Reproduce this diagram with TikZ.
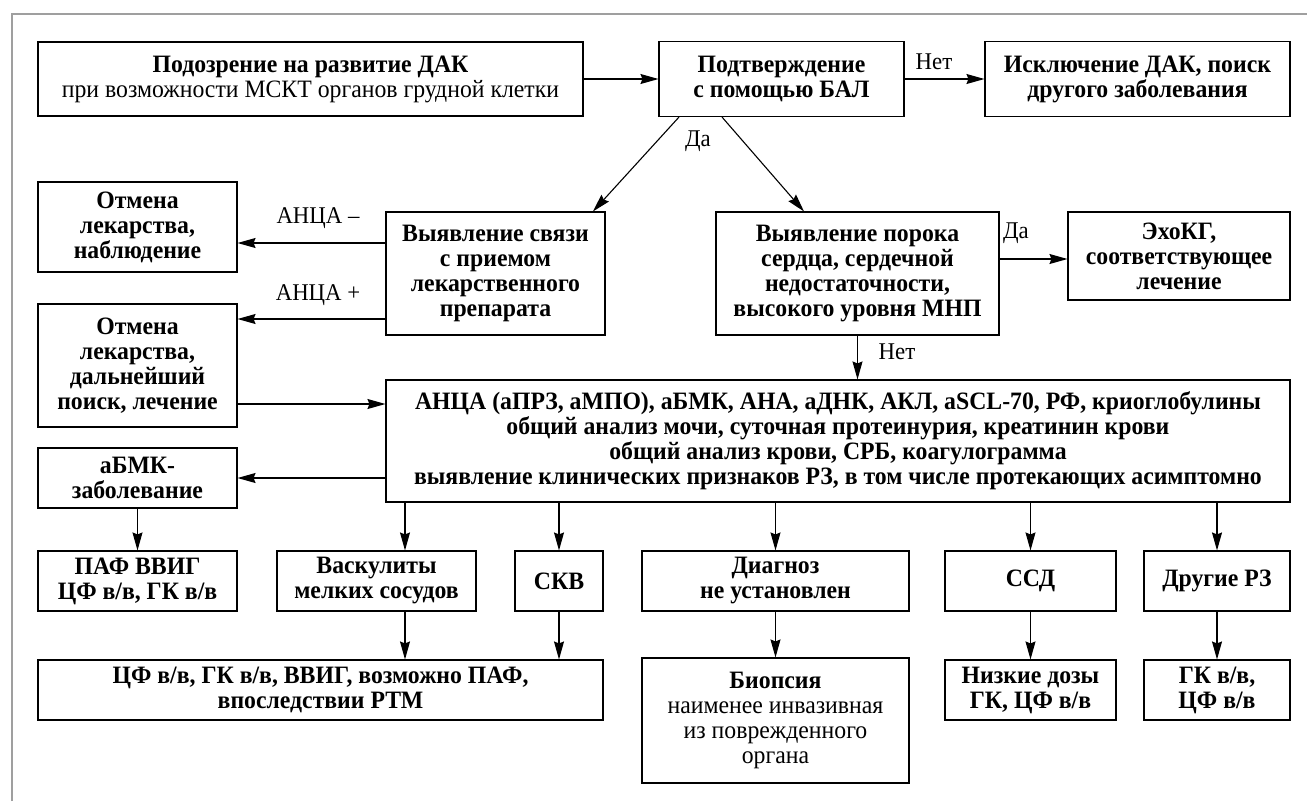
\documentclass[tikz,border=0pt]{standalone}
\usepackage{fontspec}
\setmainfont{Liberation Serif}[FakeStretch=0.95]
\usetikzlibrary{arrows.meta}

\tikzset{
  box/.style={draw, line width=1.1pt, inner sep=0pt, align=center, font=\fontsize{25}{25}\selectfont\bfseries},
  lbl/.style={inner sep=0pt, font=\fontsize{24}{25}\selectfont},
  arr/.style={line width=1.1pt, -{Stealth[length=18pt, width=10pt, inset=2pt]}}
}

\begin{document}
\begin{tikzpicture}[x=1pt, y=-1pt]
  \useasboundingbox (0,0) rectangle (1307,801);
  \draw[gray!75, line width=2.5pt] (12,801) -- (12,14) -- (1307,14);

  % top row
  \node[box, minimum width=545, minimum height=74] (susp) at (310.5,79)
    {Подозрение на развитие ДАК\\ \mdseries при возможности МСКТ органов грудной клетки};
  \node[box, minimum width=245, minimum height=75] (bal) at (781.5,79)
    {Подтверждение\\ с помощью БАЛ};
  \node[box, minimum width=305, minimum height=75] (excl) at (1137.5,79)
    {Исключение ДАК, поиск\\ другого заболевания};

  % second row
  \node[box, minimum width=199, minimum height=90] (stop1) at (137.5,227)
    {Отмена\\ лекарства,\\ наблюдение};
  \node[box, minimum width=219, minimum height=123] (drug) at (495.5,273.5)
    {Выявление связи\\ с приемом\\ лекарственного\\ препарата};
  \node[box, minimum width=283, minimum height=123] (heart) at (857.5,273.5)
    {Выявление порока\\ сердца, сердечной\\ недостаточности,\\ высокого уровня МНП};
  \node[box, minimum width=222, minimum height=88] (echo) at (1179,256)
    {ЭхоКГ,\\ соответствующее\\ лечение};
  \node[box, minimum width=199, minimum height=123] (stop2) at (137.5,365.5)
    {Отмена\\ лекарства,\\ дальнейший\\ поиск, лечение};

  % tests
  \node[box, minimum width=904, minimum height=122] (tests) at (838,441)
    {АНЦА (аПРЗ, аМПО), аБМК, АНА, аДНК, АКЛ, aSCL-70, РФ, криоглобулины\\
     общий анализ мочи, суточная протеинурия, креатинин крови\\
     общий анализ крови, СРБ, коагулограмма\\
     выявление клинических признаков РЗ, в том числе протекающих асимптомно};
  \node[box, minimum width=199, minimum height=60] (abmk) at (137.5,478)
    {аБМК-\\ заболевание};

  % diagnoses
  \node[box, minimum width=199, minimum height=60] (paf) at (137.5,581)
    {ПАФ ВВИГ\\ ЦФ в/в, ГК в/в};
  \node[box, minimum width=199, minimum height=60] (vasc) at (376.5,581)
    {Васкулиты\\ мелких сосудов};
  \node[box, minimum width=88, minimum height=60] (sle) at (559,581) {СКВ};
  \node[box, minimum width=267, minimum height=60] (nodiag) at (775.5,581)
    {Диагноз\\ не установлен};
  \node[box, minimum width=171, minimum height=60] (ssd) at (1030.5,581) {ССД};
  \node[box, minimum width=146, minimum height=60] (other) at (1217,581) {Другие РЗ};

  % treatment
  \node[box, minimum width=565, minimum height=60] (cyc) at (320.5,690)
    {ЦФ в/в, ГК в/в, ВВИГ, возможно ПАФ,\\ впоследствии РТМ};
  \node[box, minimum width=267, minimum height=125] (biop) at (775.5,720.5)
    {Биопсия\\ \mdseries наименее инвазивная\\ \mdseries из поврежденного\\ \mdseries органа};
  \node[box, minimum width=171, minimum height=60] (low) at (1030.5,690)
    {Низкие дозы\\ ГК, ЦФ в/в};
  \node[box, minimum width=146, minimum height=60] (gk) at (1217,690)
    {ГК в/в,\\ ЦФ в/в};

  % labels
  \node[lbl] (no1) at (934,62) {Нет};
  \node[lbl] (yes1) at (698,141) {Да};
  \node[lbl] (ancaneg) at (318,218) {АНЦА –};
  \node[lbl] (ancapos) at (318,295) {АНЦА +};
  \node[lbl] (yes2) at (1016,233) {Да};
  \node[lbl] (no2) at (897,352) {Нет};

  \draw[arr] (susp) -- (bal);
  \draw[arr] (bal) -- (excl);
  \draw[arr] (679,0 |- bal.south) -- (593,0 |- drug.north);
  \draw[arr] (722,0 |- bal.south) -- (804,0 |- heart.north);
  \draw[arr] (drug.west |- 0,243) -- (stop1.east |- 0,243);
  \draw[arr] (drug.west |- 0,319) -- (stop2.east |- 0,319);
  \draw[arr] (heart.east |- 0,259) -- (echo.west |- 0,259);
  \draw[arr] (heart.south) -- (tests.north -| heart.south);
  \draw[arr] (stop2.east |- 0,404) -- (tests.west |- 0,404);
  \draw[arr] (tests.west |- abmk.east) -- (abmk.east);
  \draw[arr] (abmk) -- (paf);
  \draw[arr] (405,0 |- tests.south) -- (405,0 |- vasc.north);
  \foreach \d in {sle,nodiag,ssd,other}
    \draw[arr] (tests.south -| \d.north) -- (\d.north);
  \draw[arr] (405,0 |- vasc.south) -- (405,0 |- cyc.north);
  \draw[arr] (sle.south) -- (sle.south |- cyc.north);
  \draw[arr] (nodiag) -- (biop);
  \draw[arr] (ssd) -- (low);
  \draw[arr] (other) -- (gk);
\end{tikzpicture}
\end{document}
